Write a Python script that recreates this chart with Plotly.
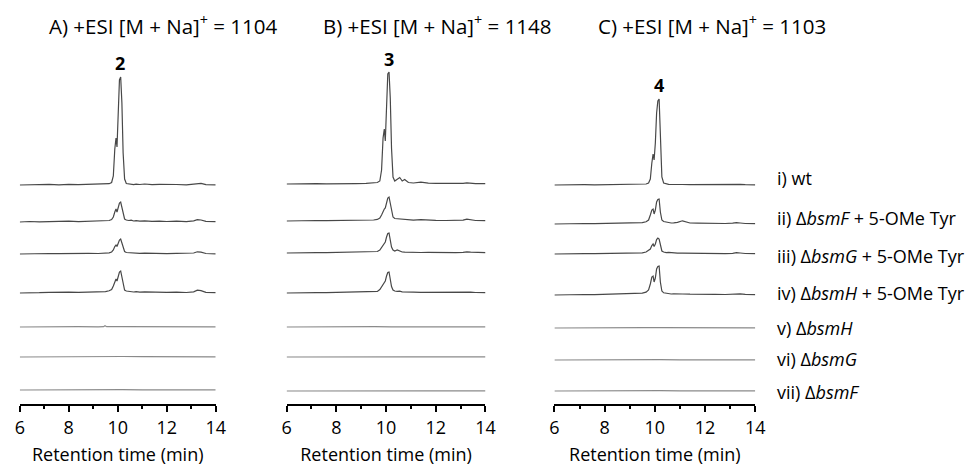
import plotly.graph_objects as go

# ---------------- data ----------------
T = [6.0, 6.4, 6.8, 7.2, 7.6, 8.0, 8.4, 8.8, 9.2, 9.5, 9.65, 9.75, 9.82, 9.88, 9.93, 9.97,
     10.02, 10.07, 10.12, 10.17, 10.22, 10.28, 10.35, 10.45, 10.55, 10.65, 10.75, 10.9,
     11.1, 11.4, 11.7, 12.0, 12.4, 12.8, 13.1, 13.25, 13.4, 13.6, 14.0]
T_FLAT = [6, 6.8, 7.6, 8.4, 9.2, 9.42, 9.48, 9.55, 10.2, 11, 11.8, 12.6, 13.4, 14]

A_wt = [0, 0.4, 0.1, 0.6, 0.2, 0.7, 0.3, 0.6, 0.4, 0.9, 1.3, 2.5, 9, 36, 47, 38, 72, 105, 108, 82,
        32, 6, 1.5, 1.0, 0.7, 0.4, 0.9, 0.5, 1.0, 0.4, 0.7, 0.3, 0.5, 0.2, 0.9, 2.0, 1.6, 0.4, 0.2]
A_ii = [0, 0.5, 0.2, 0.6, 0.3, 0.8, 0.4, 0.7, 0.6, 1.0, 1.5, 2.5, 5, 10, 13, 10, 15, 19, 20, 15,
        7, 3, 2, 1.5, 1.8, 1.0, 1.4, 0.8, 1.2, 0.6, 0.9, 0.5, 0.8, 0.4, 1.2, 2.3, 2.0, 0.6, 0.3]
A_iii = [0, 0.4, 0.2, 0.5, 0.3, 0.6, 0.3, 0.7, 0.5, 0.8, 1.2, 2, 4, 7.5, 9, 7.5, 11, 14, 15, 11,
         5, 2.5, 1.5, 1.2, 1.0, 0.8, 1.0, 0.6, 0.9, 0.5, 0.7, 0.4, 0.6, 0.5, 1.0, 2.2, 1.8, 0.5, 0.2]
A_iv = [0, 0.5, 0.3, 0.7, 0.4, 0.8, 0.6, 1.0, 0.9, 1.4, 2.2, 3.5, 7, 12, 14, 12, 17, 21, 22, 16,
        7, 3, 2, 1.6, 1.2, 1.0, 1.3, 0.8, 1.1, 0.7, 0.9, 0.6, 0.8, 0.5, 1.2, 2.8, 2.4, 0.7, 0.3]
A_v = [0, 0.3, 0.1, 0.3, 0.2, 0.3, 1.3, 0.3, 0.4, 0.2, 0.3, 0.1, 0.3, 0.1]
A_vi = [0, 0.2, 0.3, 0.1, 0.2, 0.3, 1.0, 0.4, 0.5, 0.3, 0.2, 0.3, 0.2, 0.1]
A_vii = [0, 0.1, 0.2, 0.1, 0.2, 0.2, 0.8, 0.3, 0.4, 0.2, 0.2, 0.1, 0.2, 0.1]

B_wt = [0, 0.3, 0.1, 0.4, 0.2, 0.5, 0.3, 0.4, 0.6, 0.9, 1.5, 3, 14, 46, 55, 43, 86, 110, 112, 86,
        36, 7, 3, 5, 6.5, 3, 4.5, 1.5, 1.0, 1.8, 0.8, 0.6, 0.5, 0.4, 0.6, 1.2, 0.8, 0.4, 0.3]
B_ii = [0, 0.3, 0.2, 0.5, 0.3, 0.4, 0.5, 0.6, 0.7, 1.0, 1.6, 3, 6, 10, 12, 13, 19, 23, 24, 18,
        9, 4, 2.5, 2.2, 2.0, 1.6, 1.2, 0.9, 0.8, 1.4, 0.7, 0.6, 0.5, 0.6, 0.8, 1.8, 1.0, 0.5, 0.3]
B_iii = [0, 0.3, 0.2, 0.4, 0.3, 0.5, 0.4, 0.5, 0.6, 0.9, 1.5, 3, 5.5, 8.5, 9.5, 11, 16, 19.5, 20, 14,
         6, 3, 2.0, 3.0, 1.8, 1.0, 0.8, 0.6, 0.7, 0.5, 0.6, 0.4, 0.5, 0.4, 0.6, 1.2, 0.8, 0.4, 0.3]
B_iv = [0, 0.3, 0.2, 0.4, 0.3, 0.5, 0.4, 0.6, 0.7, 1.0, 1.6, 3.5, 6, 9, 10, 12, 17, 20.5, 21, 15,
        6.5, 3, 2.0, 1.6, 1.8, 1.2, 1.0, 0.8, 0.9, 0.6, 0.7, 0.5, 0.6, 0.5, 0.7, 1.3, 0.9, 0.5, 0.3]
B_v = [0, 0.2, 0.1, 0.2, 0.3, 0.2, 0.9, 0.3, 0.2, 0.3, 0.1, 0.2, 0.2, 0.1]
B_vi = [0, 0.1, 0.2, 0.1, 0.2, 0.2, 0.6, 0.2, 0.3, 0.2, 0.1, 0.2, 0.1, 0.1]
B_vii = [0, 0.1, 0.1, 0.2, 0.1, 0.2, 0.6, 0.2, 0.2, 0.1, 0.2, 0.1, 0.1, 0.1]

C_wt = [0, 0.3, 0.1, 0.3, 0.2, 0.4, 0.3, 0.4, 0.5, 0.7, 1.0, 2, 6, 22, 31, 25, 42, 72, 84, 86,
        40, 8, 2, 1.0, 0.7, 0.5, 0.6, 0.4, 0.5, 0.4, 0.5, 0.3, 0.4, 0.3, 0.5, 1.0, 0.7, 0.3, 0.2]
C_ii = [0, 0.4, 0.2, 0.5, 0.3, 0.6, 0.5, 0.7, 0.9, 1.4, 2.2, 4, 9, 14, 15, 10, 14, 22, 24.5, 25,
        12, 4, 2.5, 1.8, 1.4, 1.0, 1.2, 1.6, 3.2, 1.0, 0.8, 0.6, 0.7, 0.5, 0.8, 1.4, 1.0, 0.5, 0.3]
C_iii = [0, 0.3, 0.2, 0.4, 0.3, 0.5, 0.4, 0.6, 0.8, 1.2, 2.0, 3.5, 5, 8.5, 10, 7.5, 10, 14.5, 16, 15,
         8, 3, 2.0, 1.4, 1.6, 1.2, 1.0, 0.8, 0.9, 0.7, 0.8, 0.5, 0.6, 0.4, 0.7, 1.3, 1.0, 0.5, 0.3]
C_iv = [0, 0.4, 0.3, 0.5, 0.4, 0.7, 0.6, 0.9, 1.2, 1.8, 2.8, 5, 11, 18, 19, 13, 17, 26, 28.5, 29,
        13, 4, 2.2, 1.6, 1.3, 1.0, 1.2, 0.9, 1.0, 0.8, 0.9, 0.6, 0.7, 0.5, 0.8, 1.5, 1.1, 0.6, 0.3]
C_v = [0, 0.2, 0.1, 0.2, 0.2, 0.3, 0.9, 0.3, 0.3, 0.2, 0.2, 0.1, 0.2, 0.1]
C_vi = [0, 0.1, 0.2, 0.1, 0.2, 0.2, 0.8, 0.2, 0.3, 0.2, 0.1, 0.2, 0.1, 0.1]
C_vii = [0, 0.1, 0.1, 0.2, 0.1, 0.2, 0.7, 0.2, 0.3, 0.1, 0.2, 0.1, 0.1, 0.1]

PANEL_TITLES = ["A) +ESI [M + Na]<sup>+</sup> = 1104",
                "B) +ESI [M + Na]<sup>+</sup> = 1148",
                "C) +ESI [M + Na]<sup>+</sup> = 1103"]
PEAK_LABELS = ["2", "3", "4"]
PEAK_TIMES = [10.1, 10.1, 10.15]
SAMPLE_LABELS = ["i) wt",
                 "ii) Δ<i>bsmF</i> + 5-OMe Tyr",
                 "iii) Δ<i>bsmG</i> + 5-OMe Tyr",
                 "iv) Δ<i>bsmH</i> + 5-OMe Tyr",
                 "v) Δ<i>bsmH</i>",
                 "vi) Δ<i>bsmG</i>",
                 "vii) Δ<i>bsmF</i>"]
X_TICKS = [6, 8, 10, 12, 14]

# ---------------- layout constants (pixels) ----------------
W, H = 975, 466
AXIS_ROW = 404
PANEL_PX = [(15, 214), (286, 488), (558, 762)]
BASE_ROWS = [[185, 222, 254, 293, 327, 357, 390],
             [184, 221, 253, 293, 327, 357, 391],
             [185, 224, 254, 295, 328, 360, 391]]
LABEL_ROWS = [178, 218, 256, 293, 328, 359, 392]
LABEL_X = 782
TITLE_X = [161, 439, 718]
TITLE_ROW = 25
PEAK_ROWS = [63, 59, 85]
FONT = "Open Sans, Noto Sans, sans-serif"

panels = [
    [(T, A_wt), (T, A_ii), (T, A_iii), (T, A_iv), (T_FLAT, A_v), (T_FLAT, A_vi), (T_FLAT, A_vii)],
    [(T, B_wt), (T, B_ii), (T, B_iii), (T, B_iv), (T_FLAT, B_v), (T_FLAT, B_vi), (T_FLAT, B_vii)],
    [(T, C_wt), (T, C_ii), (T, C_iii), (T, C_iv), (T_FLAT, C_v), (T_FLAT, C_vi), (T_FLAT, C_vii)],
]


def row_to_y(r):
    return AXIS_ROW - r


fig = go.Figure()
for p, traces in enumerate(panels):
    xa = "x" if p == 0 else f"x{p+1}"
    ya = "y" if p == 0 else f"y{p+1}"
    for k, (tx, ty) in enumerate(traces):
        off = row_to_y(BASE_ROWS[p][k])
        color = "#484848" if k < 4 else "#8a8a8a"
        fig.add_trace(go.Scatter(x=tx, y=[v + off for v in ty], mode="lines",
                                 line=dict(color=color, width=1.2),
                                 xaxis=xa, yaxis=ya, showlegend=False, hoverinfo="skip"))

ydom = [(H - AXIS_ROW) / H, 1]
layout = dict(width=W, height=H, autosize=False, margin=dict(l=0, r=0, t=0, b=0),
              plot_bgcolor="white", paper_bgcolor="white", font=dict(family=FONT, color="black"))
for p in range(3):
    sfx = "" if p == 0 else str(p + 1)
    x0, x1 = PANEL_PX[p]
    layout["xaxis" + sfx] = dict(
        domain=[x0 / W, x1 / W], range=[6, 14], anchor="y" + sfx,
        showline=True, linecolor="black", linewidth=2,
        ticks="outside", ticklen=6, tickwidth=2, tickcolor="black",
        tickvals=X_TICKS, ticktext=[str(v) for v in X_TICKS],
        minor=dict(ticks="outside", ticklen=3, tickwidth=1.5, tickcolor="black", dtick=1, tick0=6),
        showgrid=False, zeroline=False, tickfont=dict(size=18, family=FONT),
        title=dict(text="Retention time (min)", font=dict(size=18, family=FONT), standoff=12),
    )
    layout["yaxis" + sfx] = dict(domain=ydom, range=[0, AXIS_ROW], visible=False, fixedrange=True)
fig.update_layout(**layout)

ann = []
for p in range(3):
    ann.append(dict(text=PANEL_TITLES[p], x=TITLE_X[p] / W, y=1 - TITLE_ROW / H,
                    xref="paper", yref="paper", showarrow=False, xanchor="center", yanchor="middle",
                    font=dict(size=20.5, family=FONT)))
    sfx = "" if p == 0 else str(p + 1)
    ann.append(dict(text="<b>" + PEAK_LABELS[p] + "</b>", x=PEAK_TIMES[p], y=row_to_y(PEAK_ROWS[p]),
                    xref="x" + sfx, yref="y" + sfx, showarrow=False, xanchor="center", yanchor="middle",
                    font=dict(size=18, family=FONT)))
for k, lab in enumerate(SAMPLE_LABELS):
    ann.append(dict(text=lab, x=LABEL_X / W, y=row_to_y(LABEL_ROWS[k]), xref="paper", yref="y",
                    showarrow=False, xanchor="left", yanchor="middle",
                    font=dict(size=18, family=FONT)))
fig.update_layout(annotations=ann)

# remove the browser's default 8px body margin so the 975x466 figure fills the window exactly
fig.write_html("out.html", config={"displayModeBar": False},
               post_script="document.body.style.margin='0';")
